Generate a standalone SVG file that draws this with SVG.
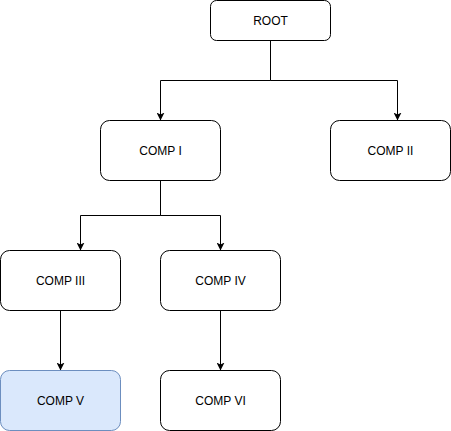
<svg xmlns="http://www.w3.org/2000/svg" width="451" height="431" viewBox="0 0 451 431">
<style>
.box{fill:#ffffff;stroke:#000000;stroke-width:1}
.blue{fill:#dae8fc;stroke:#6c8ebf;stroke-width:1}
.lbl{font-family:"Liberation Sans",Arial,sans-serif;font-size:12px;fill:#000000;text-anchor:middle;dominant-baseline:central}
.edge{fill:none;stroke:#000000;stroke-width:1}
</style>
<defs>
<marker id="arr" viewBox="0 0 10 10" refX="10" refY="5" markerWidth="8" markerHeight="8" markerUnits="userSpaceOnUse" orient="auto">
<path d="M0,0 L10,5 L0,10 L2.5,5 Z" fill="#000000"/>
</marker>
</defs>
<rect width="451" height="431" fill="#ffffff"/>
<g id="connectors">
<path class="edge" d="M270.5,40.5 V80.5 H160.5 V120.5" marker-end="url(#arr)"/>
<path class="edge" d="M270.5,40.5 V80.5 H397.5 V120.5" marker-end="url(#arr)"/>
<path class="edge" d="M160.5,180.5 V215.5 H80.5 V250.5" marker-end="url(#arr)"/>
<path class="edge" d="M160.5,180.5 V215.5 H220.5 V250.5" marker-end="url(#arr)"/>
<path class="edge" d="M60.5,310.5 V370.5" marker-end="url(#arr)"/>
<path class="edge" d="M220.5,310.5 V370.5" marker-end="url(#arr)"/>
</g>
<g id="root"><rect class="box" x="210.5" y="0.5" width="120" height="40" rx="6"/><text class="lbl" x="270.5" y="20.5">ROOT</text></g>
<g id="comp1"><rect class="box" x="100.5" y="120.5" width="120" height="60" rx="9"/><text class="lbl" x="160.5" y="150.5">COMP I</text></g>
<g id="comp2"><rect class="box" x="330.5" y="120.5" width="120" height="60" rx="9"/><text class="lbl" x="390.5" y="150.5">COMP II</text></g>
<g id="comp3"><rect class="box" x="0.5" y="250.5" width="120" height="60" rx="9"/><text class="lbl" x="60.5" y="280.5">COMP III</text></g>
<g id="comp4"><rect class="box" x="160.5" y="250.5" width="120" height="60" rx="9"/><text class="lbl" x="220.5" y="280.5">COMP IV</text></g>
<g id="comp5"><rect class="blue" x="0.5" y="370.5" width="120" height="60" rx="9"/><text class="lbl" x="60.5" y="400.5">COMP V</text></g>
<g id="comp6"><rect class="box" x="160.5" y="370.5" width="120" height="60" rx="9"/><text class="lbl" x="220.5" y="400.5">COMP VI</text></g>
</svg>
